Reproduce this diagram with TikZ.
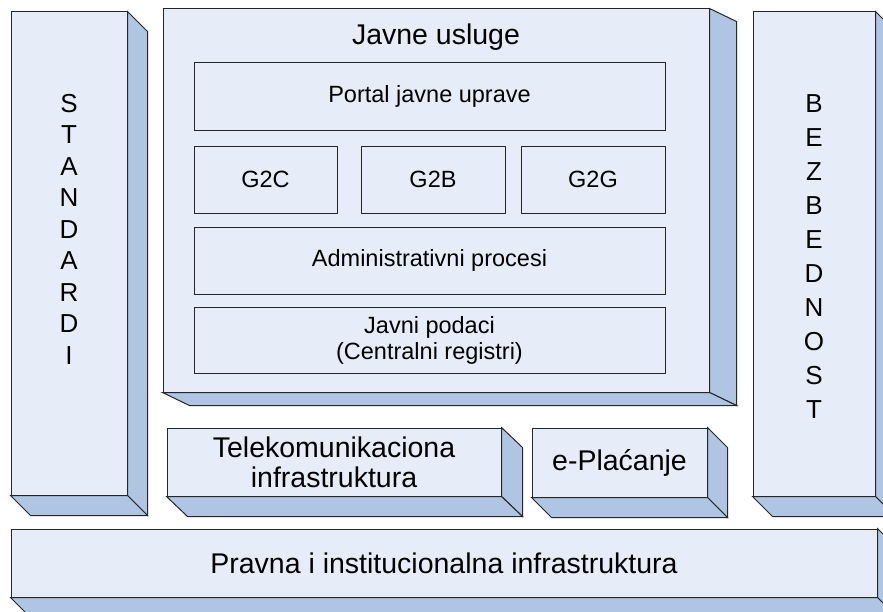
\documentclass[tikz,border=0pt]{standalone}
\usepackage{fontspec}
\setmainfont{Liberation Sans}
\usetikzlibrary{calc}
\definecolor{Face}{RGB}{231,237,248}
\definecolor{Side}{RGB}{176,197,227}
\definecolor{Edge}{RGB}{38,38,38}

\begin{document}
\begin{tikzpicture}[x=1pt,y=-1pt,
 f/.style={draw=Edge,fill=Face,line width=1pt,inner sep=0pt,align=center,font=\fontsize{28.5}{30}\selectfont},
 b/.style={draw=Edge,fill=Face,line width=.9pt,inner sep=0pt,align=center,font=\fontsize{23.5}{26}\selectfont},
 col/.style={anchor=north,inner sep=0pt,align=center},
 sd/.style={draw=Edge,fill=Side,line width=1pt,line join=miter}]
\useasboundingbox (0,0) rectangle (883,612);
\clip (0,0) rectangle (883,612);
\node[f,minimum width=116pt,minimum height=483pt] (std) at (69,253.5) {};
\node[f,minimum width=546pt,minimum height=383pt] (usl) at (436,200.5) {};
\node[f,minimum width=122pt,minimum height=484pt] (bez) at (814,254) {};
\node[f,minimum width=334pt,minimum height=68pt] (tel) at (334,462) {Telekomunikaciona\\infrastruktura};
\node[f,minimum width=175pt,minimum height=69pt] (pla) at (619.5,462.5) {e-Plaćanje};
\node[f,minimum width=866pt,minimum height=68pt] (prv) at (444,563) {Pravna i institucionalna infrastruktura};
\foreach \n/\dx/\dy in {std/20/20,usl/27/13,bez/20/20,tel/21/20,pla/20/20,prv/20/20}{
 \draw[sd] (\n.north east) -- ++(\dx,\dy) -- ($(\n.south east)+(\dx,\dy)$) -- (\n.south east) -- cycle;
 \draw[sd] (\n.south west) -- (\n.south east) -- ($(\n.south east)+(\dx,\dy)$) -- ($(\n.south west)+(\dx,\dy)$) -- cycle;
}
\node[inner sep=0pt,font=\fontsize{28.5}{30}\selectfont] (uslt) at (436,37) {Javne usluge};
\node[b,minimum width=471pt,minimum height=68pt] (portal) at (429.5,96) {Portal javne uprave};
\node[b,minimum width=143pt,minimum height=67pt] (gtc) at (265.5,179.5) {G2C};
\node[b,minimum width=144pt,minimum height=67pt] (gtb) at (433,179.5) {G2B};
\node[b,minimum width=144pt,minimum height=67pt] (gtg) at (593,179.5) {G2G};
\node[b,minimum width=471pt,minimum height=67pt] (adm) at (429.5,260.5) {Administrativni procesi};
\node[b,minimum width=471pt,minimum height=66pt] (pod) at (429.5,340) {Javni podaci\\(Centralni registri)};
\node[col,font=\fontsize{26}{31.5}\selectfont] (stdt) at (69,94) {S\\T\\A\\N\\D\\A\\R\\D\\I};
\node[col,font=\fontsize{26}{34}\selectfont] (bezt) at (814,94) {B\\E\\Z\\B\\E\\D\\N\\O\\S\\T};
\end{tikzpicture}
\end{document}
